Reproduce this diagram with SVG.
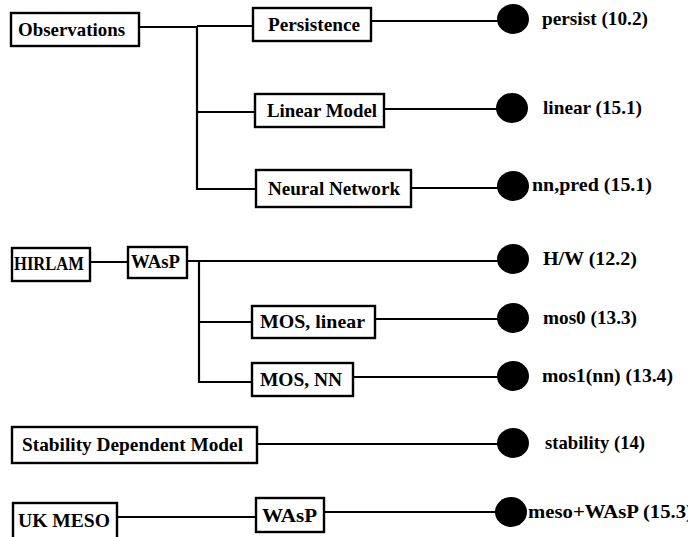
<svg xmlns="http://www.w3.org/2000/svg" width="688" height="537" viewBox="0 0 688 537">
<style>
.box{fill:#fff;stroke:#000;stroke-width:2.4}
.lbl{font-family:"Liberation Serif","Times New Roman",serif;font-weight:bold;font-size:19px;fill:#000}
.ln{fill:none;stroke:#000;stroke-width:2.2}
.dot{fill:#000}
</style>
<rect width="688" height="537" fill="#fff"/>
<g id="connectors">
<path class="ln" d="M139 27 H197 M197 26 H253 M197 26 V189 H256 M197 112 H255"/>
<path class="ln" d="M371 21 H500 M384 109 H500 M411 188 H500"/>
<path class="ln" d="M90 262 H128 M187 261 H500 M199 261 V382 H252 M199 322 H252 M375 319 H500 M353 377 H500"/>
<path class="ln" d="M257 444 H500"/>
<path class="ln" d="M117 517 H256 M324 512 H500"/>
</g>
<g id="observations"><rect class="box" x="11" y="13" width="128" height="33"/><text class="lbl" x="18" y="36" textLength="107" lengthAdjust="spacingAndGlyphs">Observations</text></g>
<g id="persistence"><rect class="box" x="253" y="8" width="118" height="33"/><text class="lbl" x="268" y="31" textLength="92" lengthAdjust="spacingAndGlyphs">Persistence</text></g>
<g id="linear-model"><rect class="box" x="255" y="94" width="129" height="33"/><text class="lbl" x="267" y="117" textLength="110" lengthAdjust="spacingAndGlyphs">Linear Model</text></g>
<g id="neural-network"><rect class="box" x="256" y="170" width="155" height="37"/><text class="lbl" x="268" y="195" textLength="132" lengthAdjust="spacingAndGlyphs">Neural Network</text></g>
<g id="hirlam"><rect class="box" x="12" y="248" width="78" height="33"/><text class="lbl" x="14" y="270" textLength="70" lengthAdjust="spacingAndGlyphs">HIRLAM</text></g>
<g id="wasp1"><rect class="box" x="128" y="247" width="59" height="31"/><text class="lbl" x="131" y="268" textLength="49" lengthAdjust="spacingAndGlyphs">WAsP</text></g>
<g id="mos-linear"><rect class="box" x="252" y="306" width="123" height="32"/><text class="lbl" x="260" y="328" textLength="105" lengthAdjust="spacingAndGlyphs">MOS, linear</text></g>
<g id="mos-nn"><rect class="box" x="252" y="363" width="101" height="33"/><text class="lbl" x="260" y="386" textLength="82" lengthAdjust="spacingAndGlyphs">MOS, NN</text></g>
<g id="stability-model"><rect class="box" x="12" y="427" width="245" height="36"/><text class="lbl" x="22" y="451" textLength="221" lengthAdjust="spacingAndGlyphs">Stability Dependent Model</text></g>
<g id="uk-meso"><rect class="box" x="13" y="503" width="104" height="40"/><text class="lbl" x="18" y="527" textLength="92" lengthAdjust="spacingAndGlyphs">UK MESO</text></g>
<g id="wasp2"><rect class="box" x="256" y="498" width="68" height="34"/><text class="lbl" x="262" y="522" textLength="55" lengthAdjust="spacingAndGlyphs">WAsP</text></g>
<g id="out-persist"><ellipse class="dot" cx="513" cy="19" rx="16" ry="15"/><text class="lbl" x="542" y="25" textLength="106" lengthAdjust="spacingAndGlyphs">persist (10.2)</text></g>
<g id="out-linear"><ellipse class="dot" cx="512" cy="108" rx="16" ry="15"/><text class="lbl" x="543" y="114" textLength="99" lengthAdjust="spacingAndGlyphs">linear (15.1)</text></g>
<g id="out-nnpred"><ellipse class="dot" cx="513" cy="186" rx="16" ry="15"/><text class="lbl" x="532" y="191" textLength="120" lengthAdjust="spacingAndGlyphs">nn,pred (15.1)</text></g>
<g id="out-hw"><ellipse class="dot" cx="513" cy="259" rx="16" ry="15"/><text class="lbl" x="543" y="265" textLength="94" lengthAdjust="spacingAndGlyphs">H/W (12.2)</text></g>
<g id="out-mos0"><ellipse class="dot" cx="513" cy="318" rx="16" ry="15"/><text class="lbl" x="543" y="324" textLength="94" lengthAdjust="spacingAndGlyphs">mos0 (13.3)</text></g>
<g id="out-mos1"><ellipse class="dot" cx="513" cy="376" rx="16" ry="15"/><text class="lbl" x="542" y="382" textLength="131" lengthAdjust="spacingAndGlyphs">mos1(nn) (13.4)</text></g>
<g id="out-stability"><ellipse class="dot" cx="513" cy="443" rx="16" ry="15"/><text class="lbl" x="545" y="449" textLength="100" lengthAdjust="spacingAndGlyphs">stability (14)</text></g>
<g id="out-meso"><ellipse class="dot" cx="511" cy="512" rx="16" ry="15"/><text class="lbl" x="528" y="518" textLength="165" lengthAdjust="spacingAndGlyphs">meso+WAsP (15.3)</text></g>
</svg>
